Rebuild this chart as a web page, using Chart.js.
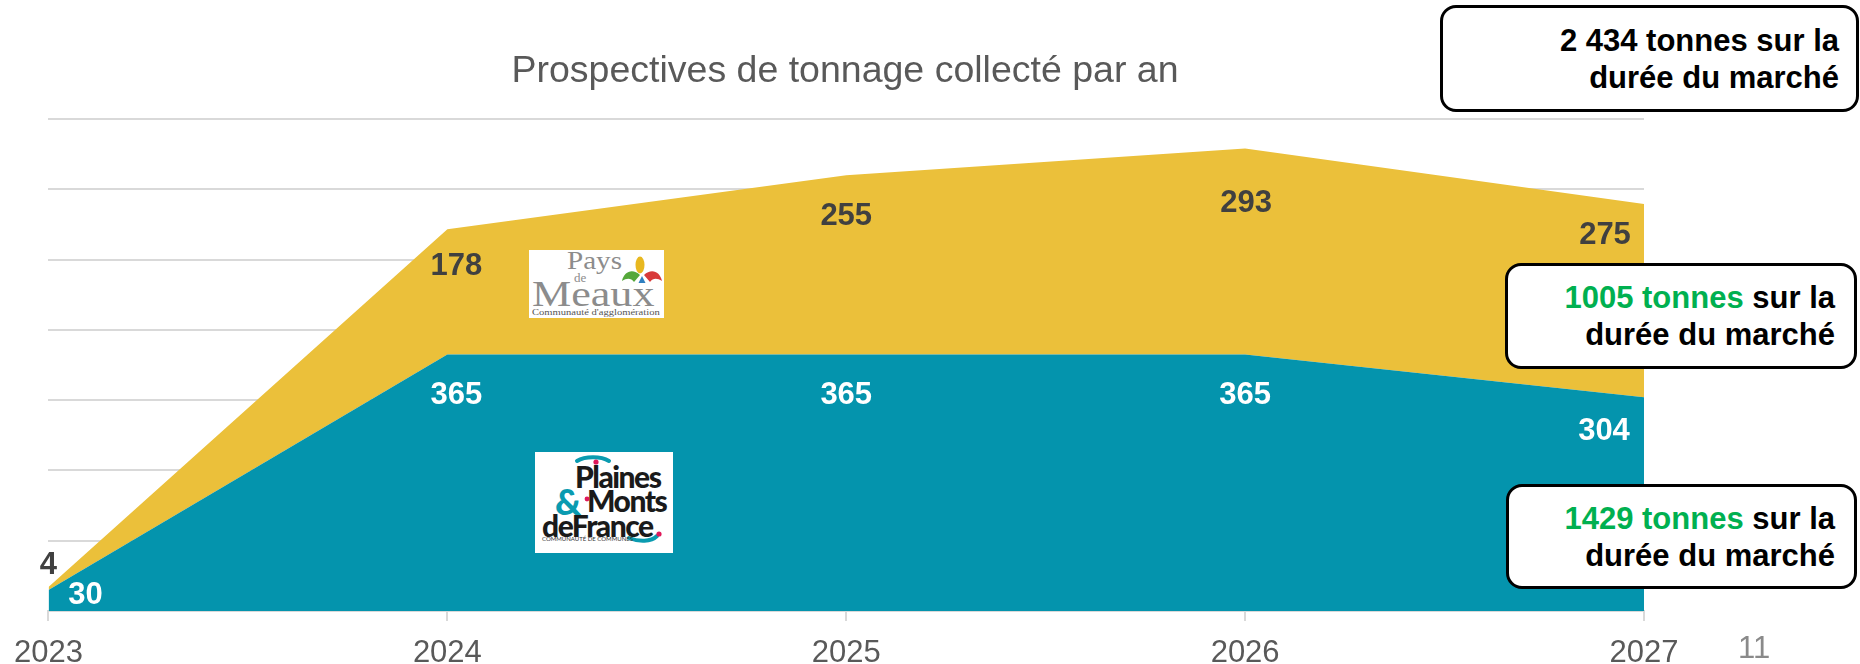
<!DOCTYPE html>
<html lang="fr">
<head>
<meta charset="utf-8">
<title>Prospectives de tonnage collecté par an</title>
<script src="https://cdn.jsdelivr.net/npm/chart.js@4.4.1/dist/chart.umd.min.js"></script>
<style>
  html, body { margin: 0; padding: 0; background: #fff; }
  #wrap { position: relative; width: 1860px; height: 664px; overflow: hidden; font-family: 'Liberation Sans', Arial, sans-serif; }
  #chart { position: absolute; left: 0; top: 0; }
  .box {
    position: absolute; box-sizing: border-box; background: #fff;
    border: 3px solid #000; border-radius: 16px;
    text-align: right; font-weight: bold; font-size: 31px; line-height: 36.5px; color: #000;
  }
  .box .g { color: #00b050; }
  .page { position: absolute; left: 1738px; top: 630px; font-size: 31px; color: #8a8a8a; }

  /* logos */
  .logo { position: absolute; background: #fff; overflow: hidden; }
  .logo span { position: absolute; white-space: nowrap; line-height: 1; transform-origin: left top; }
  #meaux { left: 529px; top: 250px; width: 135px; height: 68px; font-family: 'Liberation Serif', 'DejaVu Serif', serif; color: #8c8c8c; }
  #plaines { left: 535px; top: 452px; width: 138px; height: 101px; font-family: Lato, 'Open Sans', sans-serif; font-weight: 900; color: #1a1a1a; }
</style>
</head>
<body>
<div id="wrap">
  <canvas id="chart" width="1860" height="664"></canvas>

  <div id="meaux" class="logo">
    <span style="left:38px; top:-2px; font-size:26px; transform:scaleX(1.12);">Pays</span>
    <span style="left:45px; top:21px; font-size:13px;">de</span>
    <span style="left:3px; top:27px; font-size:35px; transform:scaleX(1.26);">Meaux</span>
    <span style="left:3px; top:59px; font-size:8px; color:#555; transform:scaleX(1.32);">Communauté d'agglomération</span>
    <svg style="position:absolute; left:92px; top:6px;" width="42" height="30" viewBox="0 0 42 30">
      <ellipse cx="19" cy="9" rx="4.5" ry="8.5" fill="#e8b820"/>
      <path d="M1 25 C3 15 12 12 19 19 L13 26 C10 22 6 22 1 25 Z" fill="#55a83a"/>
      <path d="M41 25 C39 15 30 12 23 19 L29 26 C32 22 36 22 41 25 Z" fill="#d83a3a"/>
      <path d="M21 20 L24.5 27 L17.5 27 Z" fill="#2f7fc0"/>
    </svg>
  </div>

  <div id="plaines" class="logo">
    <svg style="position:absolute; left:0; top:0;" width="138" height="101" viewBox="0 0 138 101">
      <path d="M42 9 C50 4 66 4 74 9" stroke="#0a9bb0" stroke-width="4" fill="none" stroke-linecap="round"/>
      <circle cx="61" cy="10" r="2.6" fill="#e0185a"/>
      <path d="M94 86 C104 90 116 90 122 84" stroke="#0a9bb0" stroke-width="4" fill="none" stroke-linecap="round"/>
      <circle cx="124" cy="82" r="2.6" fill="#e0185a"/>
    </svg>
    <span style="left:40px; top:9px; font-size:30px; letter-spacing:-1.5px;">Plaines</span>
    <span style="left:20px; top:31px; font-size:36px; color:#0a9bb0; letter-spacing:-1px;">&amp;</span>
    <span style="left:52px; top:33px; font-size:30px; letter-spacing:-1.5px;">Monts</span>
    <span style="left:7px; top:58px; font-size:30px; letter-spacing:-1.5px;">deFrance</span>
    <span style="left:7px; top:84px; font-size:6px; font-weight:400; color:#333;">COMMUNAUTÉ DE COMMUNES</span>
    <svg style="position:absolute; left:0; top:0;" width="138" height="101" viewBox="0 0 138 101">
      <circle cx="52" cy="47" r="2.4" fill="#e0185a"/>
    </svg>
  </div>

  <div class="box" style="left:1440px; top:5px; width:419px; height:107px; padding:15px 17px 0 0;">2 434 tonnes sur la<br>durée du marché</div>
  <div class="box" style="left:1505px; top:263px; width:352px; height:106px; padding:14px 19px 0 0;"><span class="g">1005 tonnes</span> sur la<br>durée du marché</div>
  <div class="box" style="left:1506px; top:484px; width:351px; height:105px; padding:14px 19px 0 0;"><span class="g">1429 tonnes</span> sur la<br>durée du marché</div>
  <div class="page">11</div>
</div>

<script>
// ── DONNÉES ─────────────────────────────────────
const annees = ['2023', '2024', '2025', '2026', '2027'];
const plainesMonts = [30, 365, 365, 365, 304];   // Plaines & Monts de France (bas)
const paysMeaux = [4, 178, 255, 293, 275];        // Pays de Meaux (empilé au-dessus)
const yMax = 700;
const yStep = 100;

const TEAL = '#0494ad';
const JAUNE = '#ebc03a';
const GRILLE = '#d9d9d9';
const FONT = "'Liberation Sans', Arial, sans-serif";

// décalages des étiquettes (px) par rapport au haut de chaque zone
const decalMeaux = [[0, -22], [9, 37], [0, 41], [1, 55], [-39, 31]];
const decalPlaines = [[37, 6], [9, 41], [0, 41], [0, 41], [-40, 34]];

const etiquettes = {
  id: 'etiquettes',
  afterDatasetsDraw(chart) {
    const c = chart.ctx;
    c.save();
    c.font = 'bold 31px ' + FONT;
    c.textAlign = 'center';
    c.textBaseline = 'middle';
    const dessine = (idx, vals, decal, color) => {
      const pts = chart.getDatasetMeta(idx).data;
      c.fillStyle = color;
      vals.forEach((v, i) => {
        c.fillText(String(v), pts[i].x + decal[i][0], pts[i].y + decal[i][1]);
      });
    };
    dessine(0, plainesMonts, decalPlaines, '#ffffff');
    dessine(1, paysMeaux, decalMeaux, '#404040');
    c.restore();
  }
};

new Chart(document.getElementById('chart'), {
  type: 'line',
  data: {
    labels: annees,
    datasets: [
      { label: 'Plaines & Monts de France', data: plainesMonts, backgroundColor: TEAL, borderWidth: 0, pointRadius: 0, fill: 'origin', tension: 0 },
      { label: 'Pays de Meaux', data: paysMeaux, backgroundColor: JAUNE, borderWidth: 0, pointRadius: 0, fill: '-1', tension: 0 }
    ]
  },
  options: {
    responsive: false, animation: false,
    layout: { padding: { left: 46, right: 216, top: 0, bottom: 0 } },
    plugins: {
      legend: { display: false },
      tooltip: { enabled: false },
      title: {
        display: true,
        text: 'Prospectives de tonnage collecté par an',
        color: '#595959',
        font: { family: FONT, size: 37.5, weight: 'normal' },
        padding: { top: 49, bottom: 25 }
      }
    },
    scales: {
      x: {
        offset: false,
        grid: { display: true, drawOnChartArea: false, drawTicks: true, tickLength: 10, color: GRILLE, lineWidth: 2 },
        border: { display: true, color: GRILLE, width: 2 },
        ticks: { color: '#595959', font: { family: FONT, size: 31 }, padding: 14, maxRotation: 0 },
        afterFit: s => { s.height = 53; }
      },
      y: {
        stacked: true, min: 0, max: yMax,
        grid: { color: GRILLE, lineWidth: 2, drawTicks: false },
        border: { display: false },
        ticks: { display: false, stepSize: yStep },
        afterFit: s => { s.width = 0; }
      }
    }
  },
  plugins: [etiquettes]
});
</script>
</body>
</html>
